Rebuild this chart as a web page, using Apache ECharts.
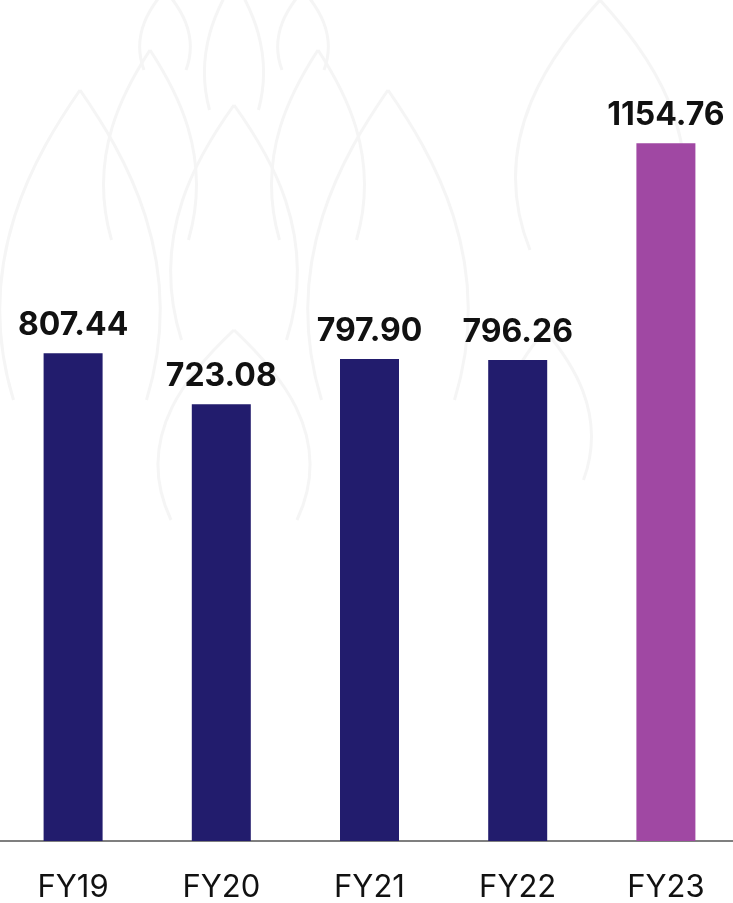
<!DOCTYPE html>
<html>
<head>
<meta charset="utf-8">
<script src="https://cdn.jsdelivr.net/npm/echarts@6/dist/echarts.min.js"></script>
<style>
  html, body { margin: 0; padding: 0; background: #ffffff; }
  #chart { width: 733px; height: 903px; }
</style>
</head>
<body>
<div id="chart"></div>
<script>
// Fiscal years and their values
const categories = ['FY19', 'FY20', 'FY21', 'FY22', 'FY23'];
const values = [807.44, 723.08, 797.90, 796.26, 1154.76];
const barColors = ['#221c6d', '#221c6d', '#221c6d', '#221c6d', '#a048a3'];

// Faint lotus-petal outlines used as a background ornament:
// each petal is two cubic curves meeting at a pointed tip.
function petal(cx, tipY, baseY, halfW) {
  const h = baseY - tipY;
  const style = { fill: null, stroke: '#f5f5f5', lineWidth: 3 };
  const side = s => ({
    type: 'bezierCurve',
    z: 0,
    silent: true,
    shape: {
      x1: cx + s * halfW * 0.7, y1: baseY,
      cpx1: cx + s * halfW * 1.15, cpy1: baseY - h * 0.45,
      cpx2: cx + s * halfW * 0.45, cpy2: tipY + h * 0.2,
      x2: cx, y2: tipY
    },
    style: style
  });
  return [side(-1), side(1)];
}
const ornamentPetals = [
  [234, 105, 340, 75],
  [234, 330, 520, 90],
  [150, 50, 240, 55],
  [318, 50, 240, 55],
  [80, 90, 400, 95],
  [388, 90, 400, 95],
  [234, -20, 110, 35],
  [165, -10, 70, 30],
  [303, -10, 70, 30],
  [545, 330, 480, 55],
  [600, 0, 250, 100]
];
const graphics = [];
ornamentPetals.forEach(p => graphics.push(...petal(p[0], p[1], p[2], p[3])));

const chart = echarts.init(document.getElementById('chart'));
chart.setOption({
  backgroundColor: '#ffffff',
  animation: false,
  graphic: { elements: graphics },
  grid: { left: -1, width: 741, top: 0, bottom: 62, outerBoundsMode: 'none', containLabel: false },
  xAxis: {
    type: 'category',
    data: categories,
    axisTick: { show: false },
    axisLine: { lineStyle: { color: '#555555', width: 1.5 } },
    axisLabel: {
      color: '#111111',
      fontFamily: 'Inter',
      fontSize: 31,
      margin: 31
    }
  },
  yAxis: {
    type: 'value',
    min: 0,
    max: 1392,
    show: false,
    splitLine: { show: false }
  },
  series: [{
    type: 'bar',
    z: 5,
    barWidth: 59,
    data: values.map((v, i) => ({ value: v, itemStyle: { color: barColors[i] } })),
    label: {
      show: true,
      position: 'top',
      distance: 12,
      color: '#111111',
      fontFamily: 'Inter',
      fontWeight: 'bold',
      fontSize: 32,
      formatter: p => p.value.toFixed(2)
    }
  }]
});
</script>
</body>
</html>
